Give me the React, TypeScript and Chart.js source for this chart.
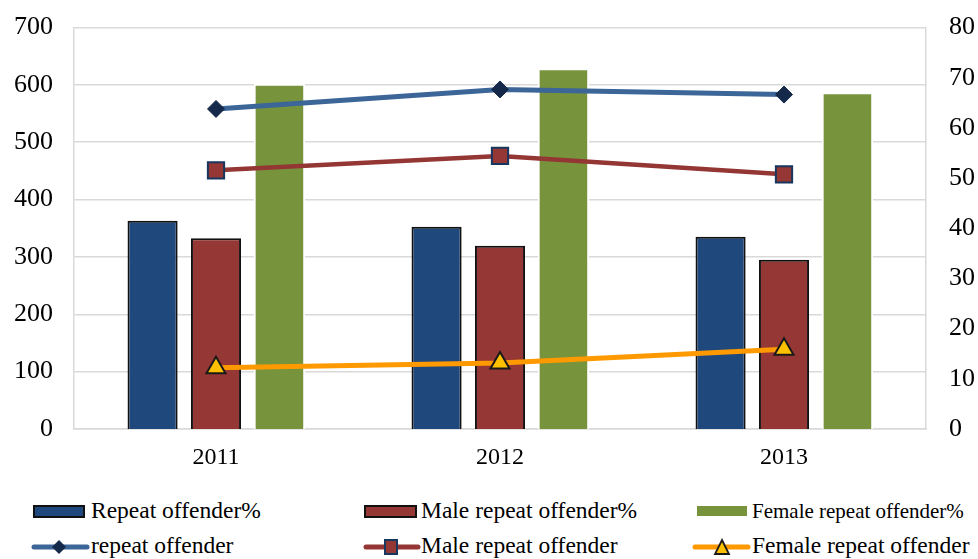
import React, { useEffect, useRef } from "react";
import { Chart, registerables } from "chart.js";

Chart.register(...registerables);

const categories = ["2011", "2012", "2013"];
const repeatPct = [41.5, 40.3, 38.3];
const malePct = [38.0, 36.5, 33.7];
const femalePct = [68.4, 71.5, 66.7];
const repeatCount = [558, 592, 583];
const maleCount = [451, 476, 444];
const femaleCount = [107, 115, 139];

const leftMax = 700;
const leftStep = 100;
const rightMax = 80;
const rightStep = 10;

const FONT = '"Liberation Serif", "Times New Roman", serif';

const C = {
  blueBar: "#1F497D",
  redBar: "#953735",
  greenBar: "#77933C",
  blueLine: "#3C6598",
  diamond: "#15294A",
  redLine: "#943634",
  squareBorder: "#17375E",
  orangeLine: "#FF9900",
  triangle: "#FFC000",
  grid: "#D9D9D9",
};

const legendRow1 = [
  { label: "Repeat offender%", color: C.blueBar, border: "#111", x: 33, textX: 91, w: 52, size: 23.5 },
  { label: "Male repeat offender%", color: C.redBar, border: "#111", x: 364, textX: 421, w: 53, size: 23.5 },
  { label: "Female repeat offender%", color: C.greenBar, border: "", x: 697, textX: 752, w: 50, size: 21 },
];

export default function App() {
  const ref = useRef<HTMLCanvasElement | null>(null);

  useEffect(() => {
    document.body.style.margin = "0";
    const canvas = ref.current;
    if (!canvas) return;
    const chart = new Chart(canvas, {
      data: {
        labels: categories,
        datasets: [
          {
            type: "line",
            label: "repeat offender",
            data: repeatCount,
            yAxisID: "y",
            borderColor: C.blueLine,
            borderWidth: 5,
            pointStyle: "rectRot",
            pointRadius: 8.5,
            pointBackgroundColor: C.diamond,
            pointBorderColor: C.diamond,
            pointBorderWidth: 1,
            tension: 0,
            order: 1,
          },
          {
            type: "line",
            label: "Male repeat offender",
            data: maleCount,
            yAxisID: "y",
            borderColor: C.redLine,
            borderWidth: 4.5,
            pointStyle: "rect",
            pointRadius: 11.5,
            pointBackgroundColor: C.redBar,
            pointBorderColor: C.squareBorder,
            pointBorderWidth: 2,
            tension: 0,
            order: 1,
          },
          {
            type: "line",
            label: "Female repeat offender",
            data: femaleCount,
            yAxisID: "y",
            borderColor: C.orangeLine,
            borderWidth: 5,
            pointStyle: "triangle",
            pointRadius: 11,
            pointBackgroundColor: C.triangle,
            pointBorderColor: "#1A1A1A",
            pointBorderWidth: 2,
            tension: 0,
            order: 1,
          },
          {
            type: "bar",
            label: "Repeat offender%",
            data: repeatPct,
            yAxisID: "y1",
            backgroundColor: C.blueBar,
            borderColor: "#111111",
            borderWidth: 2,
            categoryPercentage: 0.67,
            barPercentage: 0.79,
            order: 2,
          },
          {
            type: "bar",
            label: "Male repeat offender%",
            data: malePct,
            yAxisID: "y1",
            backgroundColor: C.redBar,
            borderColor: "#111111",
            borderWidth: 2,
            categoryPercentage: 0.67,
            barPercentage: 0.79,
            order: 2,
          },
          {
            type: "bar",
            label: "Female repeat offender%",
            data: femalePct,
            yAxisID: "y1",
            backgroundColor: C.greenBar,
            borderColor: "#FFFFFF",
            borderWidth: 2,
            inflateAmount: 2,
            categoryPercentage: 0.67,
            barPercentage: 0.75,
            order: 2,
          },
        ],
      } as any,
      options: {
        responsive: false,
        animation: false,
        layout: { padding: { top: 27.5, left: 0, right: 0, bottom: 0 } },
        plugins: { legend: { display: false }, tooltip: { enabled: false } },
        scales: {
          x: {
            type: "category",
            grid: { display: false, drawTicks: false },
            border: { display: true, color: C.grid, width: 1.5 },
            ticks: { color: "#000", font: { family: FONT, size: 24 }, padding: 14 },
            afterFit: (s: any) => {
              s.height = 51;
              s.paddingLeft = 0;
              s.paddingRight = 0;
            },
          },
          y: {
            type: "linear",
            position: "left",
            min: 0,
            max: leftMax,
            ticks: { stepSize: leftStep, color: "#000", font: { family: FONT, size: 26 }, padding: 21 },
            grid: { color: C.grid, lineWidth: 1.5, drawTicks: false },
            border: { display: true, color: C.grid, width: 1.5 },
            afterFit: (s: any) => {
              s.width = 74;
              s.paddingTop = 0;
              s.paddingBottom = 0;
            },
          },
          y1: {
            type: "linear",
            position: "right",
            min: 0,
            max: rightMax,
            ticks: { stepSize: rightStep, color: "#000", font: { family: FONT, size: 26 }, padding: 23 },
            grid: { display: false, drawTicks: false },
            border: { display: true, color: C.grid, width: 1.5 },
            afterFit: (s: any) => {
              s.width = 52;
              s.paddingTop = 0;
              s.paddingBottom = 0;
            },
          },
        },
      } as any,
    });
    return () => {
      chart.destroy();
    };
  }, []);

  const textStyle = (x: number, baseline: number, size: number): React.CSSProperties => ({
    position: "absolute",
    left: x,
    top: baseline - size * 0.8375,
    fontFamily: FONT,
    fontSize: size,
    lineHeight: 1,
    color: "#000",
    whiteSpace: "nowrap",
  });

  return (
    <div style={{ position: "relative", width: 978, height: 559, background: "#fff", overflow: "hidden" }}>
      <canvas ref={ref} width={978} height={480} style={{ display: "block" }} />
      {legendRow1.map((it) => (
        <React.Fragment key={it.label}>
          <div
            style={{
              position: "absolute",
              left: it.x,
              top: it.border ? 505 : 506,
              width: it.w,
              height: it.border ? 13 : 10,
              boxSizing: "border-box",
              background: it.color,
              border: it.border ? `2px solid ${it.border}` : "none",
            }}
          />
          <div style={textStyle(it.textX, 519, it.size)}>{it.label}</div>
        </React.Fragment>
      ))}
      <svg style={{ position: "absolute", left: 0, top: 530 }} width={978} height={29}>
        <line x1={34} y1={17} x2={87} y2={17} stroke={C.blueLine} strokeWidth={5} strokeLinecap="round" />
        <polygon points="59,10 66,17 59,24 52,17" fill={C.diamond} />
        <line x1={366} y1={17} x2={418} y2={17} stroke={C.redLine} strokeWidth={5} strokeLinecap="round" />
        <rect x={385} y={10} width={12} height={14} fill={C.redBar} stroke={C.squareBorder} strokeWidth={2} />
        <line x1={695} y1={17} x2={748} y2={17} stroke={C.orangeLine} strokeWidth={5} strokeLinecap="round" />
        <polygon points="722,10 729,24 715,24" fill={C.triangle} stroke="#1A1A1A" strokeWidth={1.8} />
      </svg>
      <div style={textStyle(91, 554, 23.5)}>repeat offender</div>
      <div style={textStyle(421, 554, 23.5)}>Male repeat offender</div>
      <div style={textStyle(752, 554, 23.5)}>Female repeat offender</div>
    </div>
  );
}
